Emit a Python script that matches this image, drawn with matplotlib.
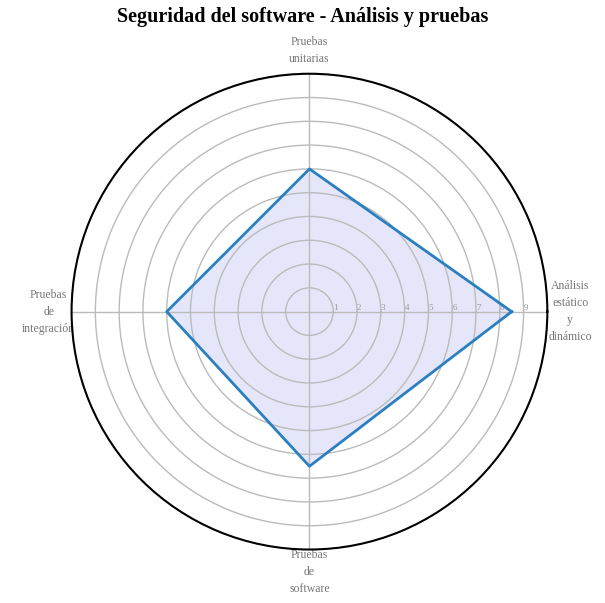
import numpy as np
import matplotlib.pyplot as plt

plt.rcParams['font.family'] = ['Liberation Serif', 'DejaVu Serif']

categories = ["Análisis\nestático\ny\ndinámico", "Pruebas\nunitarias",
              "Pruebas\nde\nintegración", "Pruebas\nde\nsoftware"]
values = [8.5, 6, 6, 6.5]
r_ticks = [1, 2, 3, 4, 5, 6, 7, 8, 9]
title = "Seguridad del software - Análisis y pruebas"

angles = np.linspace(0, 2 * np.pi, len(categories), endpoint=False)
ang_closed = np.concatenate([angles, angles[:1]])
val_closed = values + values[:1]

fig = plt.figure(figsize=(6.05, 6.03), dpi=100)
ax = fig.add_axes([0.118, 0.0887, 0.787, 0.789], polar=True)

ax.fill(ang_closed, val_closed, color="#e6e6fa", zorder=1)
ax.plot(ang_closed, val_closed, color="#2a7fc0", linewidth=2, zorder=3)

ax.set_ylim(0, 10)
ax.set_rlabel_position(0)
ax.set_yticks(r_ticks)
ax.set_yticklabels([str(t) for t in r_ticks], fontsize=6.5, color="#999999")
ax.set_xticks(angles)
ax.set_xticklabels(categories, fontsize=8.5, color="#777777", linespacing=1.55)
ax.tick_params(axis="x", pad=6)
ax.grid(color="#bbbbbb", linewidth=1)
ax.spines["polar"].set_color("black")
ax.spines["polar"].set_linewidth(1.5)

fig.suptitle(title, fontsize=14.5, fontweight="bold", y=0.988)

plt.savefig("out.png", dpi=100)
